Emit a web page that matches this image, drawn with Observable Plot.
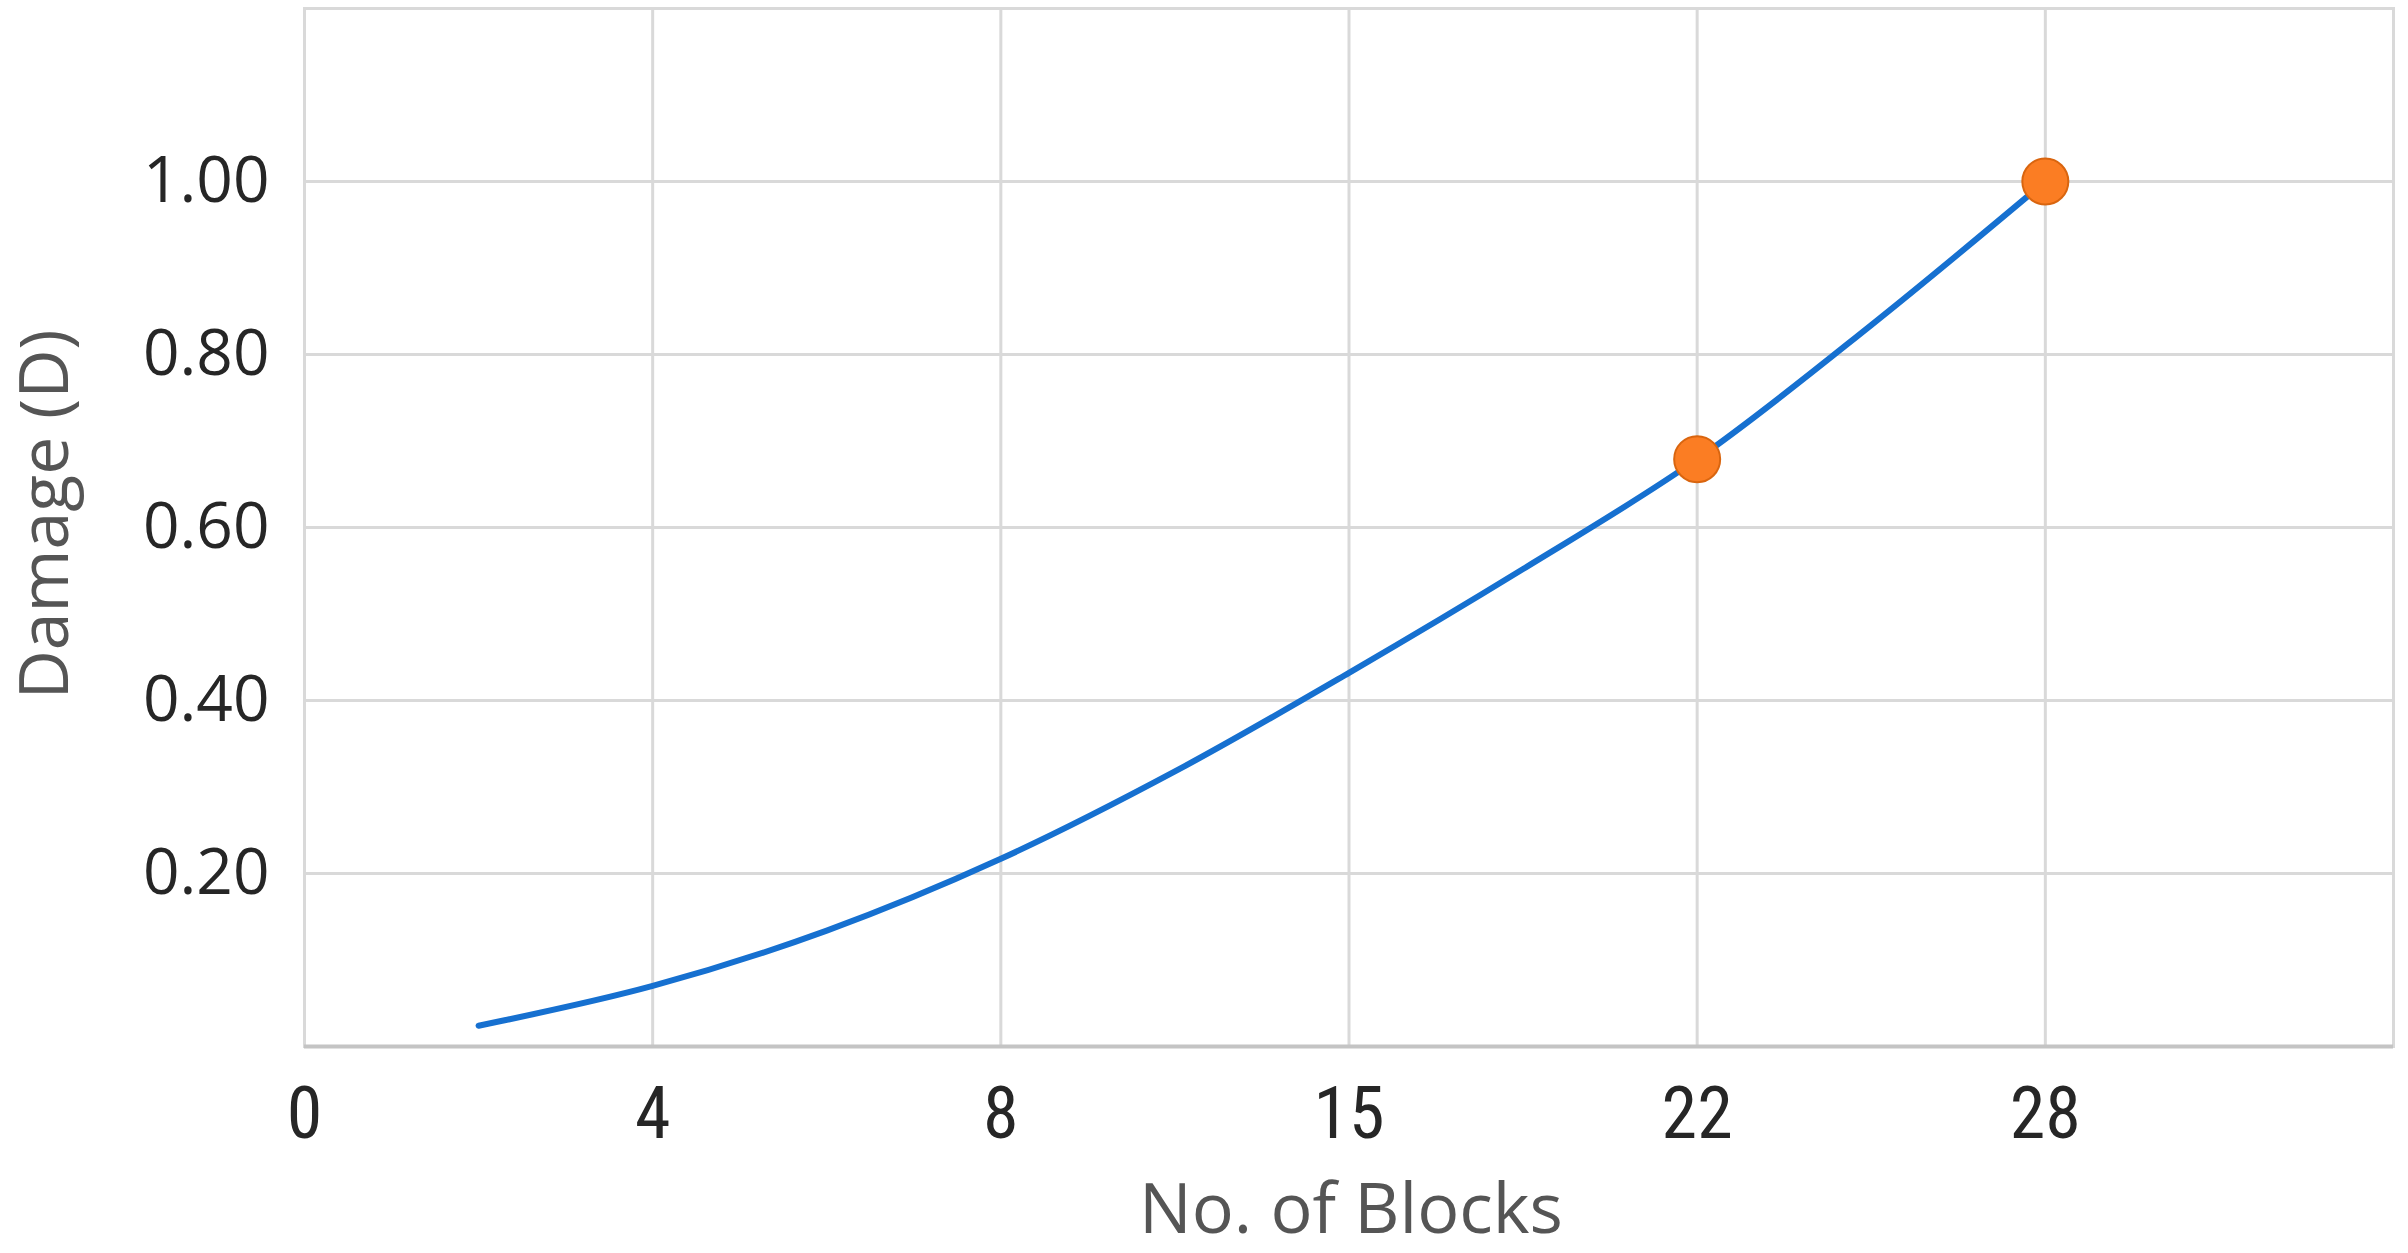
<!DOCTYPE html>
<html><head><meta charset="utf-8">
<script src="https://cdn.jsdelivr.net/npm/d3@7"></script>
<script src="https://cdn.jsdelivr.net/npm/@observablehq/plot@0.6"></script>
<style>body{margin:0;background:#fff;overflow:hidden}</style>
</head><body><div id="chart"></div>
<script>
// Category axis: blocks (equally spaced positions)
const xLabels = ["0", "4", "8", "15", "22", "28"];
const xTickPos = [0, 1, 2, 3, 4, 5];
// Damage curve sampled along the category axis position
const curvePos = [0.5, 1, 1.5, 2, 2.5, 3, 3.5, 4, 4.5, 5];
const curveDamage = [0.024, 0.07, 0.134, 0.217, 0.318, 0.432, 0.552, 0.679, 0.834, 1.0];
// Marked points
const markerPos = [4, 5];
const markerDamage = [0.679, 1.0];
const yTicks = [0.2, 0.4, 0.6, 0.8, 1.0];

const curve = curvePos.map((p, i) => ({p, d: curveDamage[i]}));
const markers = markerPos.map((p, i) => ({p, d: markerDamage[i]}));

const sans = "'Open Sans', 'Noto Sans', sans-serif";
const narrow = "'Liberation Sans Narrow', 'Arial Narrow', 'Roboto Condensed', 'Liberation Sans', sans-serif";

const chart = Plot.plot({
  width: 2408,
  height: 1253,
  marginLeft: 304,
  marginRight: 15,
  marginTop: 8,
  marginBottom: 207,
  style: {fontFamily: sans, background: "#fff"},
  x: {domain: [0, 6], axis: null},
  y: {domain: [0, 1.2], axis: null},
  marks: [
    Plot.ruleX(xTickPos.slice(1), {stroke: "#d9d9d9", strokeWidth: 3}),
    Plot.ruleY(yTicks, {stroke: "#d9d9d9", strokeWidth: 3}),
    Plot.frame({stroke: "#d9d9d9", strokeWidth: 3}),
    Plot.ruleY([0], {stroke: "#c4c4c4", strokeWidth: 4}),
    Plot.line(curve, {x: "p", y: "d", stroke: "#1670d0", strokeWidth: 6, curve: "catmull-rom"}),
    Plot.dot(markers, {x: "p", y: "d", r: 23, fill: "#fb7d23", stroke: "#d9650f", strokeWidth: 2}),
    Plot.axisY(yTicks, {tickSize: 0, tickPadding: 35, tickFormat: d => d.toFixed(2), fontSize: 64, fill: "#262626", label: null}),
    Plot.axisX(xTickPos, {tickSize: 0, tickPadding: 40, tickFormat: i => xLabels[i], fontSize: 72, fontFamily: narrow, fill: "#262626", label: null}),
    Plot.text(["No. of Blocks"], {frameAnchor: "bottom", lineAnchor: "middle", textAnchor: "middle", dy: 164, dx: 2, fontSize: 70, fill: "#555555", fontFamily: sans}),
    Plot.text(["Damage (D)"], {frameAnchor: "left", lineAnchor: "middle", textAnchor: "middle", dx: -258, dy: -13, rotate: -90, fontSize: 68, fill: "#555555", fontFamily: sans})
  ]
});
document.getElementById("chart").append(chart);
</script>
</body></html>
